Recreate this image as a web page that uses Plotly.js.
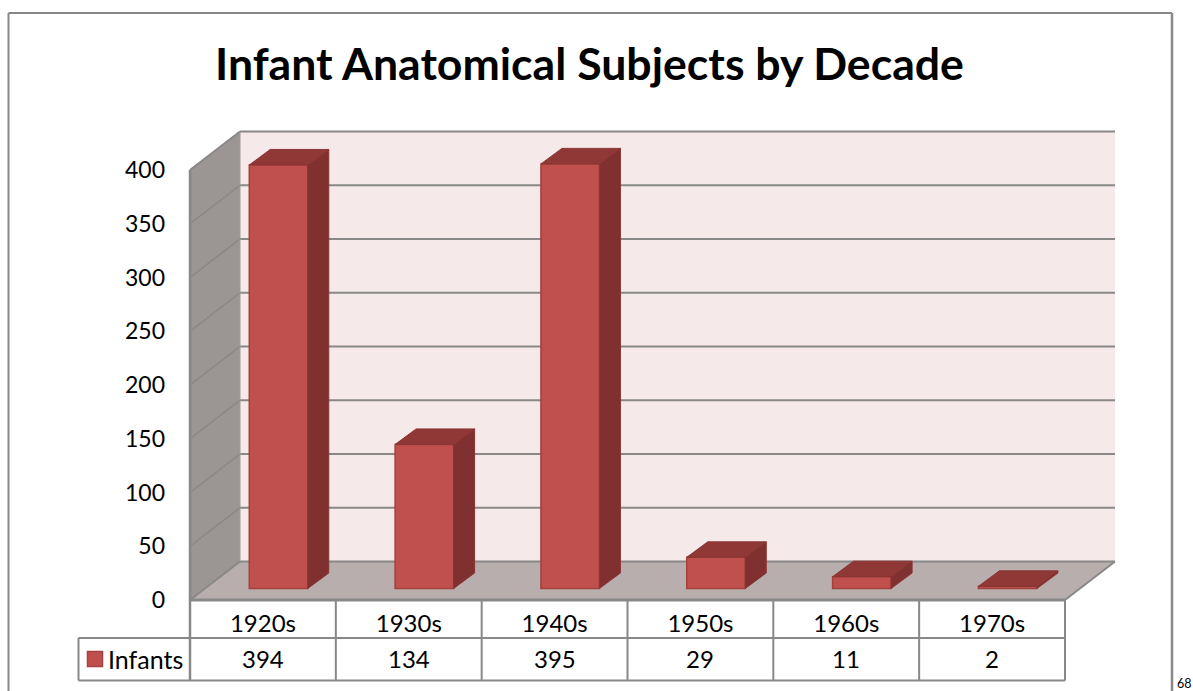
<!DOCTYPE html>
<html>
<head>
<meta charset="utf-8">
<script src="https://cdn.plot.ly/plotly-3.0.1.min.js"></script>
<style>html,body{margin:0;padding:0;background:#fff;overflow:hidden}#c{width:1193px;height:691px}</style>
</head>
<body>
<div id="c"></div>
<script>
var decades = ['1920s','1930s','1940s','1950s','1960s','1970s'];
var infants = [394,134,395,29,11,2];
var yTicks = [0,50,100,150,200,250,300,350,400];
var seriesName = 'Infants';
var chartTitle = 'Infant Anatomical Subjects by Decade';

var W = 1193, H = 691;
var pxX = 145.83, pxY = 1.075;      // pixels per category / per unit
var originX = 190, originY = 600;   // pixels of data (0,0)
var plot = {l:180, r:1126, t:125, b:607};
var wallDX = 50/pxX, wallDY = 38.5/pxY;   // depth of the walls in data units
var barDX = 21/pxX, barDY = 15.5/pxY;     // depth of a bar
var barW = 58.5/pxX, barShift = 0.107, barBase = 11.5/pxY;
var GRID = '#888888', BACK = '#f5e9e9', SIDEWALL = '#9b9594', FLOOR = '#b8aeae';
var FRONT = '#c0504d', RIGHT = '#7f302f', TOP = '#8f3836', EDGE = '#a5413e';
var FONT = 'Lato, "Open Sans", sans-serif';

function xp(px){return (px-plot.l)/(plot.r-plot.l);}
function yp(py){return (plot.b-py)/(plot.b-plot.t);}

var centers = decades.map(function(d,i){return i+0.5;});
var barX = centers.map(function(c){return c+barShift;});

var sideX=[],sideY=[],topX=[],topY=[];
infants.forEach(function(v,i){
  var l=barX[i]-barW/2, r=barX[i]+barW/2, b=barBase, t=barBase+v;
  sideX.push(r,r+barDX,r+barDX,r,r,null); sideY.push(b,b+barDY,t+barDY,t,b,null);
  topX.push(l,l+barDX,r+barDX,r,l,null);  topY.push(t,t+barDY,t+barDY,t,t,null);
});

var traces = [
  {type:'bar',x:barX,y:infants,base:infants.map(function(){return barBase;}),width:barW,name:seriesName,
   marker:{color:FRONT,line:{color:EDGE,width:1.5}},showlegend:false,hoverinfo:'x+y'},
  {type:'scatter',mode:'lines',x:sideX,y:sideY,fill:'toself',fillcolor:RIGHT,line:{color:'#8a3533',width:1},showlegend:false,hoverinfo:'skip'},
  {type:'scatter',mode:'lines',x:topX,y:topY,fill:'toself',fillcolor:TOP,line:{color:'#8a3533',width:1},showlegend:false,hoverinfo:'skip'}
];

var ymax = yTicks[yTicks.length-1];
var wallTop = (originY-131.5)/pxY;
var xEnd = decades.length;
function poly(p){return 'M'+p.map(function(q){return q[0]+','+q[1];}).join('L')+'Z';}
var shapes = [
  {type:'path',layer:'below',xref:'x',yref:'y',path:poly([[wallDX,wallDY],[xEnd+wallDX,wallDY],[xEnd+wallDX,wallTop],[wallDX,wallTop]]),fillcolor:BACK,line:{width:0}},
  {type:'path',layer:'below',xref:'x',yref:'y',path:poly([[0,0],[wallDX,wallDY],[wallDX,wallTop],[0,ymax]]),fillcolor:SIDEWALL,line:{width:0}},
  {type:'path',layer:'below',xref:'x',yref:'y',path:poly([[0,0],[wallDX,wallDY],[xEnd+wallDX,wallDY],[xEnd,0]]),fillcolor:FLOOR,line:{width:0}}
];
yTicks.forEach(function(v){
  shapes.push({type:'line',layer:'below',xref:'x',yref:'y',x0:wallDX,x1:xEnd+wallDX,y0:v+wallDY,y1:v+wallDY,line:{color:GRID,width:2}});
  shapes.push({type:'line',layer:'below',xref:'x',yref:'y',x0:0,x1:wallDX,y0:v,y1:v+wallDY,line:{color:GRID,width:v===0||v===ymax?2:1.5}});
});
shapes.push({type:'line',layer:'below',xref:'x',yref:'y',x0:0,x1:0,y0:0,y1:ymax,line:{color:GRID,width:2.5}});
shapes.push({type:'line',layer:'below',xref:'x',yref:'y',x0:wallDX,x1:wallDX,y0:wallDY,y1:wallTop,line:{color:'#a09a9a',width:1}});
shapes.push({type:'line',layer:'below',xref:'x',yref:'y',x0:xEnd,x1:xEnd+wallDX,y0:0,y1:wallDY,line:{color:GRID,width:2}});

function pline(x0,y0,x1,y1,w){
  shapes.push({type:'line',xref:'paper',yref:'paper',x0:xp(x0),x1:xp(x1),y0:yp(y0),y1:yp(y1),line:{color:GRID,width:w||2}});
}
// outer frame
pline(8.5,13,1172,13,2); pline(8.5,13,8.5,691,2); pline(1172,13,1172,691,2.5);
// data table
pline(190,600,1065,600,3);
pline(78.5,638,1065,638,2);
pline(78.5,680.5,1065,680.5,2);
pline(78.5,638,78.5,680.5,2);
decades.forEach(function(d,i){
  var px = originX+i*pxX;
  pline(px,600,px,680.5,i===0?2.5:2);
});
pline(originX+decades.length*pxX,600,originX+decades.length*pxX,680.5,2);
// key swatch
shapes.push({type:'rect',xref:'paper',yref:'paper',x0:xp(87.5),x1:xp(102.5),y0:yp(651.5),y1:yp(666.5),fillcolor:FRONT,line:{color:EDGE,width:1.5}});

var rowY = yp(658.5);
var annotations = infants.map(function(v,i){
  return {xref:'x',yref:'paper',x:centers[i],y:rowY,text:String(v),showarrow:false,xanchor:'center',yanchor:'middle',font:{family:FONT,size:24,color:'#000'}};
});
annotations.push({xref:'paper',yref:'paper',x:xp(108),y:rowY,text:seriesName,showarrow:false,xanchor:'left',yanchor:'middle',xshift:-2,font:{family:FONT,size:25,color:'#000'}});
annotations.push({xref:'paper',yref:'paper',x:xp(1177),y:yp(683),text:'68',showarrow:false,xanchor:'left',yanchor:'middle',xshift:-2,font:{family:FONT,size:12.5,color:'#000'}});

var layout = {
  width:W,height:H,
  margin:{l:plot.l,r:W-plot.r,t:plot.t,b:H-plot.b,pad:0,autoexpand:false},
  paper_bgcolor:'#fff',plot_bgcolor:'rgba(0,0,0,0)',
  showlegend:false,
  title:{text:'<b>'+chartTitle+'</b>',font:{family:FONT,size:44.6,color:'#000'},x:589.5/W,xanchor:'center',xref:'container',y:1-64/H,yref:'container',yanchor:'middle'},
  xaxis:{range:[(plot.l-originX)/pxX,(plot.r-originX)/pxX],tickmode:'array',tickvals:centers,ticktext:decades,
    showgrid:false,zeroline:false,showline:false,ticks:'',ticklabelstandoff:0,tickfont:{family:FONT,size:24,color:'#000'},fixedrange:true,tickangle:0},
  yaxis:{range:[(originY-plot.b)/pxY,(originY-plot.t)/pxY],tickmode:'array',tickvals:yTicks,ticktext:yTicks.map(String),
    showgrid:false,zeroline:false,showline:false,ticks:'',ticklabelstandoff:14,tickfont:{family:FONT,size:23,color:'#000'},fixedrange:true},
  shapes:shapes,annotations:annotations,bargap:0
};
Plotly.newPlot('c',traces,layout,{displayModeBar:false,staticPlot:true});
</script>
</body>
</html>
